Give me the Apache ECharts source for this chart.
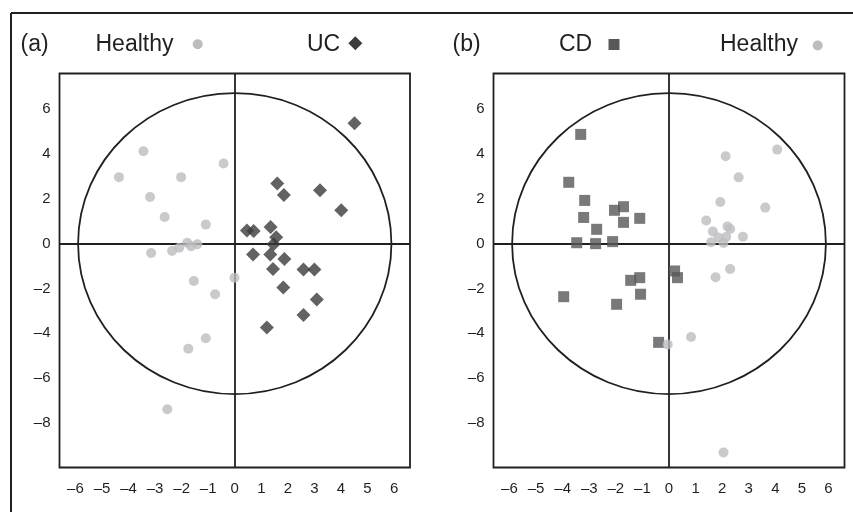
<!DOCTYPE html>
<html>
<head>
<meta charset="utf-8">
<script src="https://cdn.jsdelivr.net/npm/echarts@6/dist/echarts.min.js"></script>
<style>
html,body{margin:0;padding:0;background:#fff;}
#chart{width:853px;height:512px;}
</style>
</head>
<body>
<div id="chart"></div>
<script>
// ---- data ----
const xTickLabels = [-6,-5,-4,-3,-2,-1,0,1,2,3,4,5,6];
const yTickLabels = [-8,-6,-4,-2,0,2,4,6];

const healthyA = [[-3.44,4.13],[-4.36,2.97],[-2.02,2.97],[-0.42,3.58],[-3.19,2.08],[-2.64,1.19],[-1.09,0.85],[-3.15,-0.42],[-2.36,-0.33],[-2.09,-0.18],[-1.79,0.04],[-1.64,-0.12],[-1.41,-0.03],[-1.54,-1.67],[-0.01,-1.52],[-0.74,-2.26],[-1.09,-4.23],[-1.75,-4.69],[-2.54,-7.4]];
const ucA = [[4.51,5.38],[1.6,2.69],[1.85,2.17],[3.21,2.39],[4.01,1.49],[0.46,0.59],[0.71,0.56],[1.35,0.74],[1.56,0.29],[1.46,-0.03],[1.34,-0.48],[0.69,-0.48],[1.87,-0.69],[1.44,-1.13],[2.59,-1.16],[3.0,-1.15],[1.83,-1.96],[3.09,-2.49],[2.59,-3.19],[1.21,-3.75]];
const cdB = [[-3.32,4.88],[-3.77,2.74],[-3.17,1.93],[-3.21,1.17],[-2.72,0.64],[-3.47,0.04],[-2.76,0],[-2.12,0.09],[-2.05,1.49],[-1.71,1.65],[-1.71,0.95],[-1.1,1.13],[0.21,-1.22],[0.32,-1.52],[-1.1,-1.52],[-1.44,-1.64],[-1.07,-2.26],[-3.96,-2.37],[-1.97,-2.71],[-0.39,-4.41]];
const healthyB = [[4.07,4.2],[2.13,3.9],[2.62,2.96],[1.93,1.86],[3.62,1.61],[1.4,1.03],[1.65,0.54],[2.2,0.77],[2.3,0.65],[2.78,0.31],[1.58,0.06],[2.05,0.03],[2.15,0.3],[1.86,0.27],[2.3,-1.13],[1.75,-1.5],[0.83,-4.17],[-0.05,-4.5],[2.05,-9.33]];
const ellipseCenter = [0, 0];
const ellipseRadii = [5.9, 6.72];

// ---- styles ----
const INK = '#231f20';
const GREY = '#bcbdc0';
const DIAMOND = '#3b3b3b';
const SQUARE = '#58585a';
const FONT = '"Liberation Sans", Arial, Helvetica, sans-serif';

function fmtLabel(list){
  return function(v){
    const r = Math.round(v);
    if (Math.abs(v - r) > 1e-6 || list.indexOf(r) < 0) return '';
    return r < 0 ? '\u2013' + Math.abs(r) : String(r);
  };
}

function xAxisFor(idx){
  return {
    type:'value', gridIndex:idx, min:-6.6, max:6.6, interval:0.2,
    axisLine:{show:false}, axisTick:{show:false}, splitLine:{show:false},
    axisLabel:{formatter:fmtLabel(xTickLabels), color:INK, fontFamily:FONT, fontSize:15, margin:14, showMinLabel:false, showMaxLabel:false}
  };
}
function yAxisFor(idx){
  return {
    type:'value', gridIndex:idx, min:-10, max:7.6, interval:2,
    axisLine:{show:false}, axisTick:{show:false}, splitLine:{show:false},
    axisLabel:{formatter:fmtLabel(yTickLabels), color:INK, fontFamily:FONT, fontSize:15, margin:9}
  };
}
function ellipseSeries(idx){
  return {
    type:'custom', xAxisIndex:idx, yAxisIndex:idx, z:1, silent:true,
    data:[ellipseCenter.concat(ellipseRadii)],
    renderItem:function(params, api){
      const c = api.coord([api.value(0), api.value(1)]);
      const s = api.size([api.value(2), api.value(3)]);
      return {type:'ellipse', shape:{cx:c[0], cy:c[1], rx:s[0], ry:s[1]},
        style:{fill:null, stroke:INK, lineWidth:1.8}};
    }
  };
}
const zeroLines = {
  silent:true, symbol:'none', z:1, label:{show:false},
  lineStyle:{color:INK, width:1.8, type:'solid'},
  emphasis:{disabled:true},
  data:[{xAxis:0},{yAxis:0}]
};

const chart = echarts.init(document.getElementById('chart'), null, {renderer:'canvas'});
chart.setOption({
  animation:false,
  backgroundColor:'#fff',
  grid:[
    {left:59.5, top:73.5, width:350.5, height:394, show:true, borderColor:INK, borderWidth:1.8, backgroundColor:'transparent'},
    {left:493.5, top:73.5, width:351, height:394, show:true, borderColor:INK, borderWidth:1.8, backgroundColor:'transparent'}
  ],
  xAxis:[xAxisFor(0), xAxisFor(1)],
  yAxis:[yAxisFor(0), yAxisFor(1)],
  series:[
    ellipseSeries(0),
    ellipseSeries(1),
    {name:'Healthy', type:'scatter', xAxisIndex:0, yAxisIndex:0, z:3, data:healthyA,
      symbol:'circle', symbolSize:10, itemStyle:{color:GREY}, markLine:zeroLines},
    {name:'UC', type:'scatter', xAxisIndex:0, yAxisIndex:0, z:4, data:ucA,
      symbol:'diamond', symbolSize:14, itemStyle:{color:DIAMOND}},
    {name:'CD', type:'scatter', xAxisIndex:1, yAxisIndex:1, z:3, data:cdB,
      symbol:'rect', symbolSize:11, itemStyle:{color:SQUARE}, markLine:zeroLines},
    {name:'Healthy', type:'scatter', xAxisIndex:1, yAxisIndex:1, z:4, data:healthyB,
      symbol:'circle', symbolSize:10, itemStyle:{color:GREY}}
  ],
  graphic:[
    {type:'line', shape:{x1:11, y1:13, x2:853, y2:13}, style:{stroke:INK, lineWidth:2}},
    {type:'line', shape:{x1:11, y1:13, x2:11, y2:512}, style:{stroke:INK, lineWidth:2}},
    {type:'text', x:20.5, y:45, style:{text:'(a)', fill:INK, font:'23px ' + FONT, verticalAlign:'middle'}},
    {type:'text', x:95.5, y:45, style:{text:'Healthy', fill:INK, font:'23px ' + FONT, verticalAlign:'middle'}},
    {type:'circle', shape:{cx:197.7, cy:44.3, r:5}, style:{fill:GREY}},
    {type:'text', x:307, y:45, style:{text:'UC', fill:INK, font:'23px ' + FONT, verticalAlign:'middle'}},
    {type:'polygon', shape:{points:[[355.3,36.3],[362.3,43.3],[355.3,50.3],[348.3,43.3]]}, style:{fill:DIAMOND}},
    {type:'text', x:452.5, y:45, style:{text:'(b)', fill:INK, font:'23px ' + FONT, verticalAlign:'middle'}},
    {type:'text', x:559, y:45, style:{text:'CD', fill:INK, font:'23px ' + FONT, verticalAlign:'middle'}},
    {type:'rect', shape:{x:608.5, y:39, width:11, height:11}, style:{fill:SQUARE}},
    {type:'text', x:720, y:45, style:{text:'Healthy', fill:INK, font:'23px ' + FONT, verticalAlign:'middle'}},
    {type:'circle', shape:{cx:817.7, cy:45.5, r:5}, style:{fill:GREY}}
  ]
});
</script>
</body>
</html>
